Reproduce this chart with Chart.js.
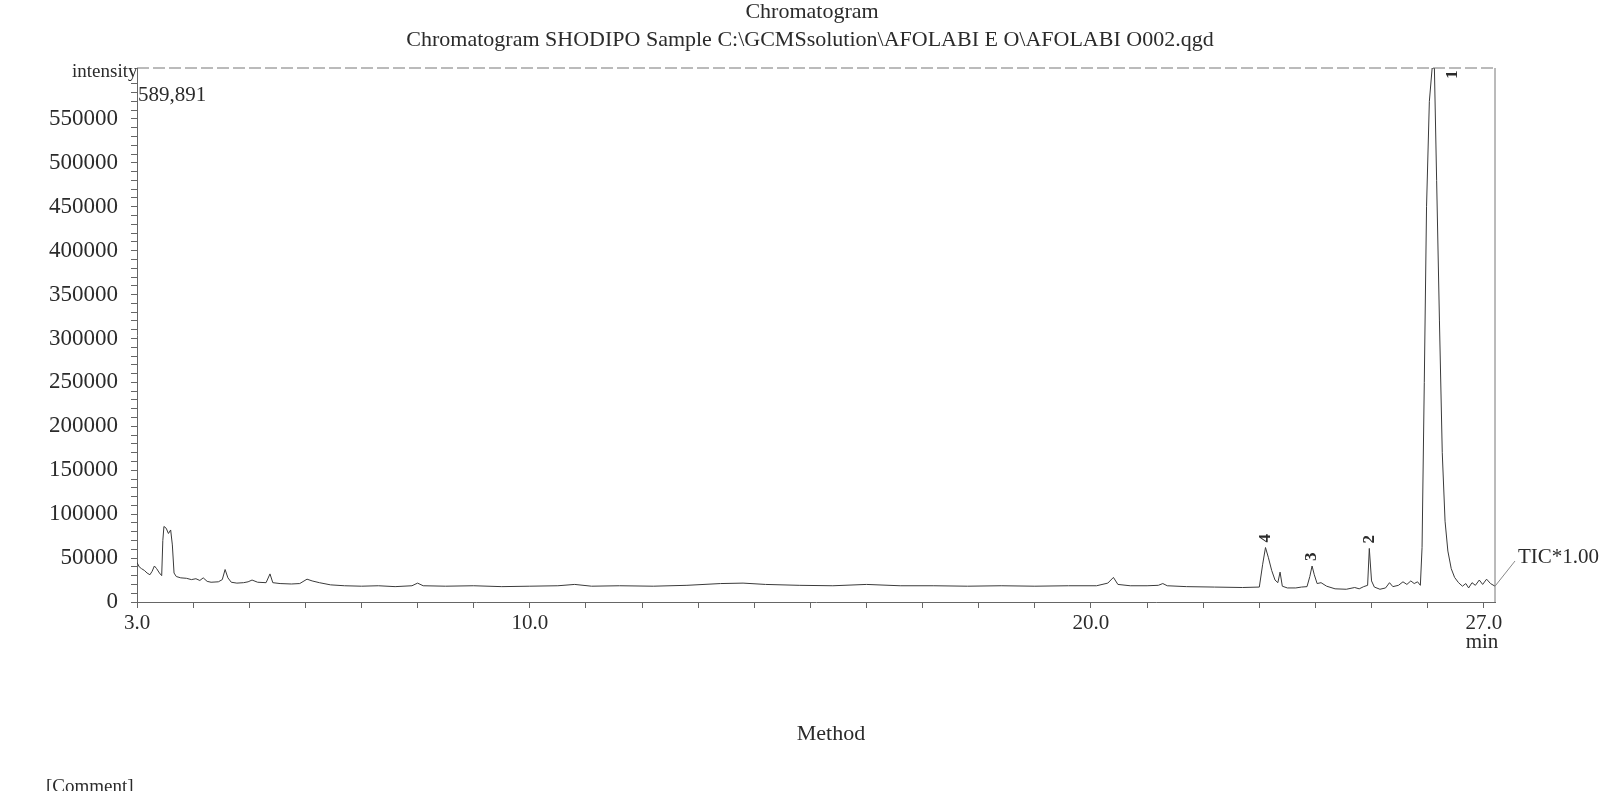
<!DOCTYPE html>
<html>
<head>
<meta charset="utf-8">
<script src="https://cdn.jsdelivr.net/npm/chart.js@4.4.0/dist/chart.umd.min.js"></script>
<style>
  body { margin: 0; background: #fff; }
  canvas { display: block; }
</style>
</head>
<body>
<canvas id="chromatogram" width="1612" height="791"></canvas>
<script>
const ctx = document.getElementById('chromatogram');

const ink = '#2b2b2b';
const axisGray = '#666666';
const serif = 'Liberation Serif';

// retention time (min) and TIC intensity
const times = [
  3.00, 3.04, 3.08, 3.13, 3.18, 3.23, 3.27, 3.31, 3.35, 3.40, 3.44, 3.46, 3.48, 3.52, 3.56, 3.60,
  3.63, 3.66, 3.70, 3.78, 3.88, 3.97, 4.05, 4.12, 4.18, 4.25, 4.32, 4.45, 4.52, 4.57, 4.62, 4.68,
  4.78, 4.90, 4.98, 5.05, 5.15, 5.30, 5.37, 5.42, 5.55, 5.75, 5.90, 6.03, 6.12, 6.25, 6.45, 6.70,
  7.00, 7.30, 7.60, 7.90, 8.00, 8.10, 8.50, 9.00, 9.50, 10.00, 10.50, 10.80, 11.10, 11.60, 12.20, 12.80,
  13.40, 13.80, 14.20, 14.80, 15.40, 16.00, 16.60, 17.20, 17.80, 18.40, 19.00, 19.60, 20.10, 20.30, 20.40, 20.48,
  20.70, 21.00, 21.20, 21.28, 21.36, 21.70, 22.20, 22.70, 23.00, 23.06, 23.11, 23.16, 23.22, 23.28, 23.33, 23.37,
  23.41, 23.50, 23.65, 23.75, 23.85, 23.90, 23.94, 23.98, 24.03, 24.10, 24.20, 24.35, 24.55, 24.70, 24.78, 24.86,
  24.93, 24.96, 25.00, 25.05, 25.15, 25.25, 25.32, 25.38, 25.48, 25.56, 25.63, 25.70, 25.76, 25.82, 25.87, 25.90,
  25.94, 25.98, 26.03, 26.08, 26.12, 26.16, 26.21, 26.26, 26.31, 26.36, 26.42, 26.48, 26.55, 26.62, 26.68, 26.73,
  26.79, 26.85, 26.92, 26.98, 27.05, 27.12, 27.20
];
const intensities = [
  45000, 40000, 38000, 36000, 33000, 31000, 35000, 41000, 38000, 33000, 30000, 70000, 86000, 84000, 78000, 82000,
  65000, 33000, 29000, 27500, 27000, 25500, 26500, 24500, 27500, 23500, 22500, 23000, 25500, 37000, 27500, 22500,
  21500, 22000, 23000, 25000, 22500, 22000, 32000, 22000, 21000, 20500, 21000, 26000, 24000, 22000, 19500, 18500,
  18000, 18500, 17500, 18500, 21500, 18500, 18000, 18500, 17500, 18000, 18500, 20000, 18000, 18500, 18000, 19000,
  21000, 21500, 20000, 19000, 18500, 20000, 18500, 18500, 18000, 18500, 18000, 18500, 18500, 21500, 28000, 20000,
  18500, 18500, 19000, 21000, 18500, 17500, 17000, 16500, 17000, 43000, 62000, 51000, 36000, 25000, 22000, 34000,
  18000, 16000, 16000, 17000, 17500, 29000, 41000, 31000, 21000, 22000, 18000, 15000, 14500, 16500, 15000, 17500,
  19000, 61000, 24000, 17000, 14500, 16000, 22000, 17500, 19000, 23000, 20000, 24000, 21000, 23000, 19000, 62000,
  250000, 450000, 570000, 608000, 608000, 480000, 320000, 170000, 92000, 58000, 38000, 28000, 22000, 18000, 21000, 16000,
  22000, 19000, 25000, 20000, 26000, 21000, 18000
];

// axis ticks: labelled values and the minor marks in between
const xLabelled = [3, 10, 20, 27];
const xMarks = [3, 4, 5, 6, 7, 8, 9, 10, 11, 12, 13, 14, 15, 16, 17, 18, 19, 20, 21, 22, 23, 24, 25, 26, 27];
const yLabelled = [0, 50000, 100000, 150000, 200000, 250000, 300000, 350000, 400000, 450000, 500000, 550000];
const yStep = 10000;
const yTop = 608000;
const maxLabel = '589,891';

// peak numbers printed (rotated) above the peaks
const peakNames = ['4', '3', '2', '1'];
const peakTimes = [23.11, 23.94, 24.96, 26.45];
const peakHeights = [62000, 41000, 61000, 590000];

const frame = {
  id: 'frame',
  afterDatasetsDraw(chart) {
    const { ctx, chartArea: a } = chart;
    ctx.save();
    ctx.strokeStyle = '#777';
    ctx.lineWidth = 1;
    ctx.setLineDash([12, 4]);
    ctx.beginPath();
    ctx.moveTo(a.left, a.top);
    ctx.lineTo(a.right, a.top);
    ctx.stroke();
    ctx.setLineDash([]);
    ctx.beginPath();
    ctx.moveTo(a.right, a.top);
    ctx.lineTo(a.right, a.bottom);
    ctx.stroke();
    ctx.restore();
  }
};

const notes = {
  id: 'notes',
  afterDraw(chart) {
    const { ctx, scales } = chart;
    const x = scales.x, y = scales.y;
    ctx.save();
    ctx.fillStyle = ink;
    ctx.textBaseline = 'middle';

    ctx.font = `22px "${serif}"`;
    ctx.textAlign = 'center';
    ctx.fillText('Chromatogram', 812, 12);
    ctx.fillText('Chromatogram SHODIPO Sample C:\\GCMSsolution\\AFOLABI E O\\AFOLABI O002.qgd', 810, 40);
    ctx.fillText('Method', 831, 734);

    ctx.font = `19px "${serif}"`;
    ctx.textAlign = 'left';
    ctx.fillText('intensity', 72, 72);
    ctx.fillText('[Comment]', 46, 787);
    ctx.font = `21px "${serif}"`;
    ctx.fillText(maxLabel, 138, 95);
    ctx.fillText('TIC*1.00', 1518, 557);

    ctx.textAlign = 'center';
    ctx.fillText('min', 1482, 642);

    // leader from trace end to the TIC tag
    const endX = x.getPixelForValue(times[times.length - 1]);
    const endY = y.getPixelForValue(intensities[intensities.length - 1]);
    ctx.strokeStyle = '#888';
    ctx.lineWidth = 1;
    ctx.beginPath();
    ctx.moveTo(endX, endY);
    ctx.lineTo(1515, 561);
    ctx.stroke();

    // rotated peak numbers
    ctx.font = `bold 17px "${serif}"`;
    peakNames.forEach((name, i) => {
      const px = x.getPixelForValue(peakTimes[i]);
      const py = y.getPixelForValue(peakHeights[i]) - 5;
      ctx.save();
      ctx.translate(px, py);
      ctx.rotate(-Math.PI / 2);
      ctx.textAlign = 'left';
      ctx.fillText(name, 0, 0);
      ctx.restore();
    });
    ctx.restore();
  }
};

const axisGrid = {
  display: true,
  drawOnChartArea: false,
  drawTicks: true,
  tickLength: 6,
  color: axisGray
};

new Chart(ctx, {
  type: 'line',
  data: {
    datasets: [{
      label: 'TIC*1.00',
      data: times.map((t, i) => ({ x: t, y: intensities[i] })),
      borderColor: '#3a3a3a',
      borderWidth: 1,
      pointRadius: 0,
      tension: 0,
      fill: false
    }]
  },
  options: {
    responsive: false,
    animation: false,
    events: [],
    layout: {
      padding: { left: 0, top: 68, right: 117, bottom: 149 }
    },
    plugins: {
      legend: { display: false },
      tooltip: { enabled: false }
    },
    scales: {
      x: {
        type: 'linear',
        min: 3,
        max: 27.2,
        afterFit: (scale) => { scale.height = 40; },
        afterBuildTicks: (scale) => { scale.ticks = xMarks.map((v) => ({ value: v })); },
        border: { display: true, color: axisGray, width: 1, dash: [10, 4] },
        grid: axisGrid,
        ticks: {
          autoSkip: false,
          maxRotation: 0,
          padding: 3,
          color: ink,
          font: { family: serif, size: 21 },
          callback: (v) => xLabelled.includes(v) ? v.toFixed(1) : ''
        }
      },
      y: {
        min: 0,
        max: yTop,
        afterFit: (scale) => { scale.width = 137; },
        afterBuildTicks: (scale) => {
          const marks = [];
          for (let v = 0; v < yTop - yStep; v += yStep) marks.push({ value: v });
          scale.ticks = marks;
        },
        border: { display: true, color: axisGray, width: 1 },
        grid: axisGrid,
        ticks: {
          autoSkip: false,
          padding: 13,
          color: ink,
          font: { family: serif, size: 23 },
          callback: (v) => yLabelled.includes(v) ? String(v) : ''
        }
      }
    }
  },
  plugins: [frame, notes]
});
</script>
</body>
</html>
